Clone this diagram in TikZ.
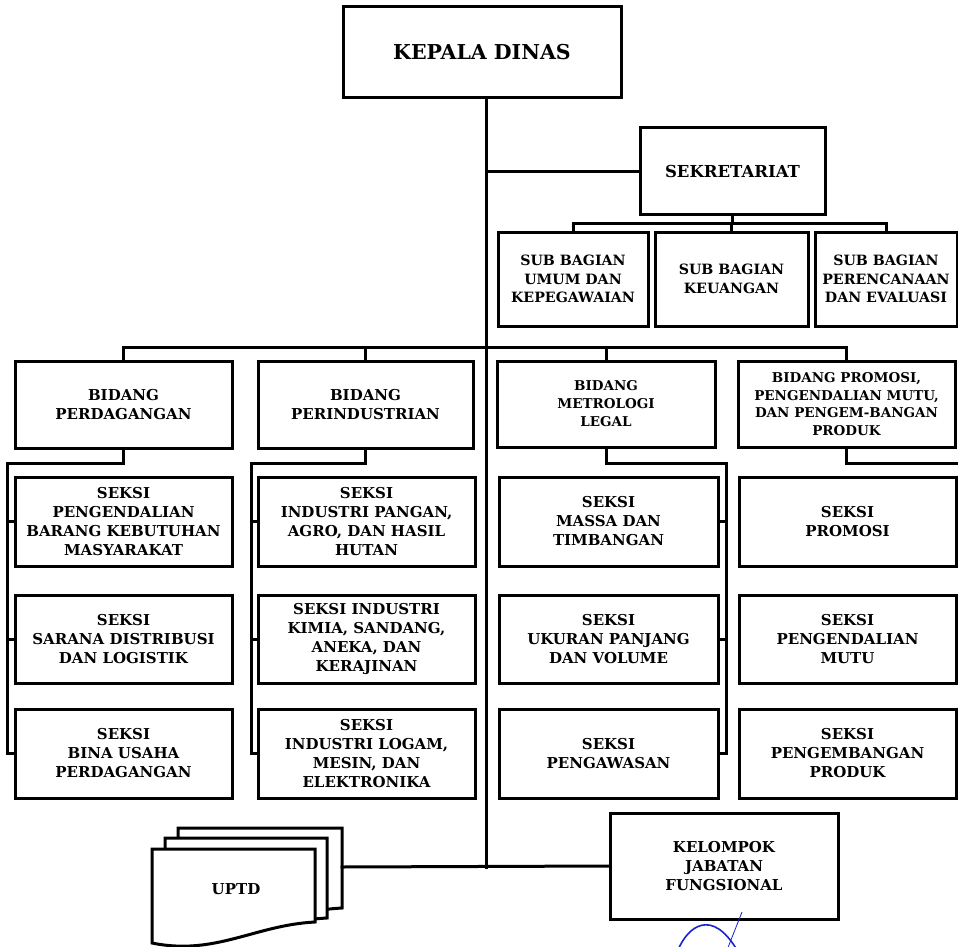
\documentclass[tikz,border=0pt]{standalone}
\usepackage{tikz}
\usepackage{fontspec}
\setmainfont{DejaVu Serif}
\definecolor{sigblue}{RGB}{25,35,205}
\begin{document}
\begin{tikzpicture}[x=1pt,y=-1pt,
  ln/.style={line width=3pt, line cap=rect},
  box/.style={draw, line width=3pt, fill=white, align=center, inner sep=0pt,
    font=\fontsize{15}{19}\selectfont\bfseries},
  colw/.style={minimum width=217pt},
  rowh/.style={minimum height=89pt},
  docshape/.style={draw, line width=3pt, fill=white, line join=miter}]
\fill[white] (0,0) rectangle (958,947);
\useasboundingbox (0,0) rectangle (958,947);

% ---- nodes ----
\node[box, minimum width=278pt, minimum height=91pt, font=\fontsize{20.5}{24}\selectfont\bfseries] (kd) at (482,52.5) {KEPALA DINAS};
\node[box, minimum width=185pt, minimum height=86pt, font=\fontsize{16.5}{19}\selectfont\bfseries] (sek) at (732.5,171) {SEKRETARIAT};

\node[box, minimum width=150pt, minimum height=94pt, font=\fontsize{14.2}{18.5}\selectfont\bfseries] (sb1) at (573,279) {SUB BAGIAN\\UMUM DAN\\KEPEGAWAIAN};
\node[box, minimum width=153pt, minimum height=94pt, font=\fontsize{14.2}{18.5}\selectfont\bfseries] (sb2) at (731.5,279) {SUB BAGIAN\\KEUANGAN};
\node[box, minimum width=142pt, minimum height=94pt, font=\fontsize{14.2}{18.5}\selectfont\bfseries] (sb3) at (886,279) {SUB BAGIAN\\PERENCANAAN\\DAN EVALUASI};

\node[box, minimum width=217pt, minimum height=87pt] (bd1) at (123.5,404.5) {BIDANG\\PERDAGANGAN};
\node[box, minimum width=215pt, minimum height=87pt] (bd2) at (365.5,404.5) {BIDANG\\PERINDUSTRIAN};
\node[box, minimum width=218pt, minimum height=86pt, font=\fontsize{13.5}{18}\selectfont\bfseries] (bd3) at (606,404) {BIDANG\\METROLOGI\\LEGAL};
\node[box, minimum width=217pt, minimum height=86pt, font=\fontsize{13.5}{17.7}\selectfont\bfseries] (bd4) at (846.5,404) {BIDANG PROMOSI,\\PENGENDALIAN MUTU,\\DAN PENGEM-BANGAN\\PRODUK};

% column 1
\node[box, colw, rowh] (s11) at (123.5,521.5) {SEKSI\\PENGENDALIAN\\BARANG KEBUTUHAN\\MASYARAKAT};
\node[box, colw, minimum height=88pt] (s12) at (123.5,639) {SEKSI\\SARANA DISTRIBUSI\\DAN LOGISTIK};
\node[box, colw, rowh] (s13) at (123.5,753.5) {SEKSI\\BINA USAHA\\PERDAGANGAN};
% column 2
\node[box, colw, rowh] (s21) at (366.5,521.5) {SEKSI\\INDUSTRI PANGAN,\\AGRO, DAN HASIL\\HUTAN};
\node[box, colw, minimum height=88pt] (s22) at (366.5,639) {SEKSI INDUSTRI\\KIMIA, SANDANG,\\ANEKA, DAN\\KERAJINAN};
\node[box, colw, rowh] (s23) at (366.5,753.5) {SEKSI\\INDUSTRI LOGAM,\\MESIN, DAN\\ELEKTRONIKA};
% column 3
\node[box, minimum width=219pt, rowh] (s31) at (608.5,521.5) {SEKSI\\MASSA DAN\\TIMBANGAN};
\node[box, minimum width=219pt, minimum height=88pt] (s32) at (608.5,639) {SEKSI\\UKURAN PANJANG\\DAN VOLUME};
\node[box, minimum width=219pt, rowh] (s33) at (608.5,753.5) {SEKSI\\PENGAWASAN};
% column 4
\node[box, colw, rowh] (s41) at (847.5,521.5) {SEKSI\\PROMOSI};
\node[box, colw, minimum height=88pt] (s42) at (847.5,639) {SEKSI\\PENGENDALIAN\\MUTU};
\node[box, colw, rowh] (s43) at (847.5,753.5) {SEKSI\\PENGEMBANGAN\\PRODUK};

\node[box, minimum width=228pt, minimum height=106pt] (kjf) at (724,866) {KELOMPOK\\JABATAN\\FUNGSIONAL};

% ---- UPTD stacked documents ----
\draw[docshape] (178,828) -- (342,828) -- (342,908) .. controls (282,911) and (242,941) .. (178,929) -- cycle;
\draw[docshape] (165,838) -- (327,838) -- (327,918) .. controls (267,921) and (227,951) .. (165,939) -- cycle;
\draw[docshape] (152,849) -- (315,849) -- (315,922) .. controls (255,925) and (215,956) .. (152,943) -- cycle;
\node[font=\fontsize{15}{19}\selectfont\bfseries] (uptd) at (236,889) {UPTD};
\coordinate (ur) at (342,867);

% ---- connectors ----
\coordinate (tr) at (486,867);
\draw[ln] (kd.south -| tr) -- (tr);
\draw[ln] (sek.west -| tr) -- (sek.west);
\draw[ln] (ur) -- (kjf.west);

\coordinate (sbb) at (0,223);
\draw[ln] (sek.south) -- (sek.south |- sbb);
\draw[ln] (sb1.north) -- (sb1.north |- sbb) -- (sb3.north |- sbb) -- (sb3.north);
\draw[ln] (sb2.north) -- (sb2.north |- sbb);

\coordinate (bb) at (0,347);
\draw[ln] (bd1.north) -- (bd1.north |- bb) -- (bd4.north |- bb) -- (bd4.north);
\draw[ln] (bd2.north) -- (bd2.north |- bb);
\draw[ln] (bd3.north) -- (bd3.north |- bb);

\coordinate (st) at (0,463);
\coordinate (v1) at (7,0);
\coordinate (v2) at (251,0);
\coordinate (v3) at (726,0);
\coordinate (edge) at (962,0);
\draw[ln] (bd1.south) -- (bd1.south |- st) -- (v1 |- st) -- (v1 |- s13.west) -- (s13.west);
\draw[ln] (v1 |- s11.west) -- (s11.west);
\draw[ln] (v1 |- s12.west) -- (s12.west);
\draw[ln] (bd2.south) -- (bd2.south |- st) -- (v2 |- st) -- (v2 |- s23.west) -- (s23.west);
\draw[ln] (v2 |- s21.west) -- (s21.west);
\draw[ln] (v2 |- s22.west) -- (s22.west);
\draw[ln] (bd3.south) -- (bd3.south |- st) -- (v3 |- st) -- (v3 |- s33.east) -- (s33.east);
\draw[ln] (v3 |- s31.east) -- (s31.east);
\draw[ln] (v3 |- s32.east) -- (s32.east);
\draw[ln] (bd4.south) -- (bd4.south |- st) -- (edge |- st);

% ---- signature ----
\draw[sigblue, line width=1.6pt] (678,950) .. controls (688,926) and (712,908) .. (737,950);
\draw[sigblue, line width=0.8pt] (742,912) -- (727,950);
\end{tikzpicture}
\end{document}
